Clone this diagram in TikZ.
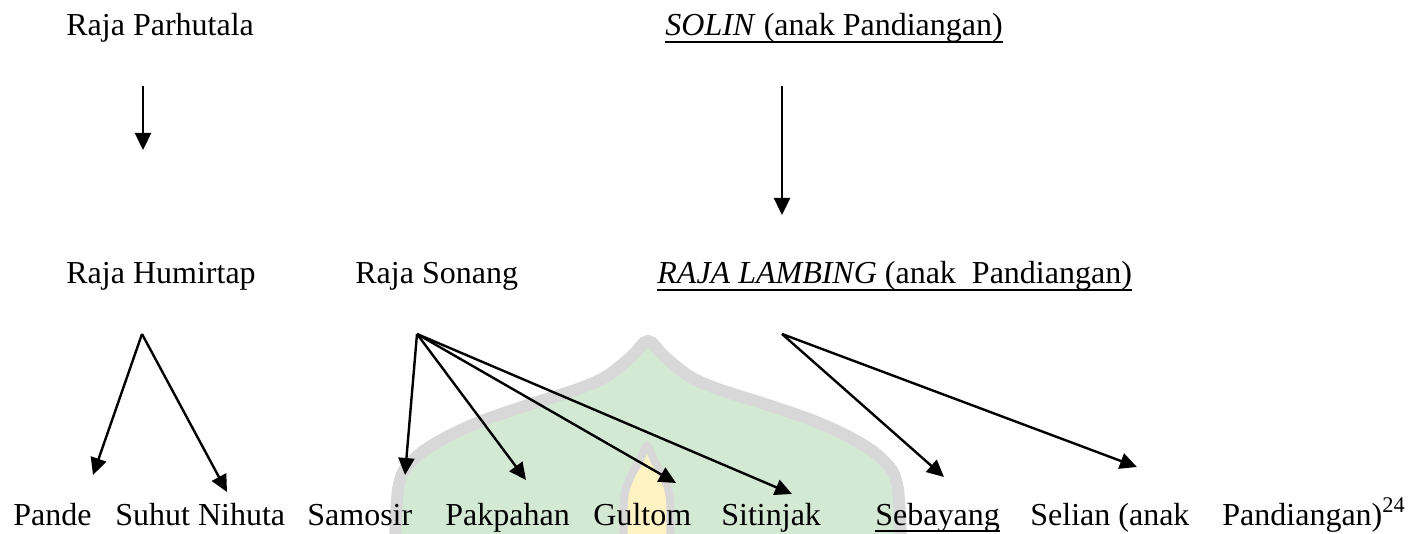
\documentclass[tikz,border=0pt]{standalone}
\usepackage{fontspec}
\setmainfont{Liberation Serif}
\usetikzlibrary{arrows.meta}
\definecolor{wmgreen}{HTML}{D4E9D4}
\definecolor{wmgrey}{HTML}{D8D8D8}
\definecolor{wmyellow}{HTML}{FFF3C4}
\newcommand\ulx[1]{\setbox0\hbox{#1}\rlap{\rule[-3.5pt]{\wd0}{1pt}}\box0}
\begin{document}
\begin{tikzpicture}[x=0.5pt,y=-0.5pt,
  txt/.style={inner sep=0pt, anchor=base west, font=\fontsize{16pt}{19pt}\selectfont},
  arr/.style={line width=1.2pt, -{Triangle[length=8.5pt,width=8pt]}},
  wm/.style={line width=6pt, draw=wmgrey}]
\useasboundingbox (0,0) rectangle (1415,534);
% watermark
\begin{scope}
\clip (0,0) rectangle (1415,534);
\path[wm, fill=wmgreen] plot[smooth, tension=0.6] coordinates {(395,545) (399,484) (414,459) (443,439) (482,421) (531,404) (578,389) (607,376) (632,356) (648,341) (664,356) (689,376) (718,389) (765,404) (814,421) (853,439) (882,459) (897,484) (901,545)} -- cycle;
\path[line width=4pt, draw=wmgrey, fill=wmyellow] plot[smooth, tension=0.6] coordinates {(624,545) (624,500) (630,478) (640,460) (647,446) (654,460) (664,478) (670,500) (670,545)} -- cycle;
\end{scope}
% nodes
\node[txt] (parhutala) at (66,36) {Raja Parhutala};
\node[txt] (solin) at (665,36) {\ulx{\textit{SOLIN} (anak Pandiangan)}};
\node[txt] (humirtap) at (66,284) {Raja Humirtap};
\node[txt] (sonang) at (355,284) {Raja Sonang};
\node[txt] (lambing) at (657,284) {\ulx{\textit{RAJA LAMBING} (anak\ \ Pandiangan)}};
\node[txt] (pande) at (13,525) {Pande};
\node[txt] (suhut) at (115,525) {Suhut Nihuta};
\node[txt] (samosir) at (307,525) {Samosir};
\node[txt] (pakpahan) at (445,525) {Pakpahan};
\node[txt] (gultom) at (593,525) {Gultom};
\node[txt] (sitinjak) at (721,525) {Sitinjak};
\node[txt] (sebayang) at (875,525) {\ulx{Sebayang}};
\node[txt] (selian) at (1030,525) {Selian (anak};
\node[txt] (pandiangan) at (1222,525) {Pandiangan)\textsuperscript{24}};
% connector points
\coordinate (parS) at (143,86);
\coordinate (parE) at (143,150);
\coordinate (solS) at (782,86);
\coordinate (solE) at (782,215);
\coordinate (humS) at (142,334);
\coordinate (pandeE) at (93,475);
\coordinate (suhutE) at (227,492);
\coordinate (sonS) at (417,334);
\coordinate (samosirE) at (405,475);
\coordinate (pakpahanE) at (526,480);
\coordinate (gultomE) at (676,483);
\coordinate (sitinjakE) at (792,494);
\coordinate (lamS) at (782,334);
\coordinate (sebayangE) at (944,477);
\coordinate (selianE) at (1137,467);
% connectors
\draw[arr] (parS) -- (parE);
\draw[arr] (solS) -- (solE);
\draw[arr] (humS) -- (pandeE);
\draw[arr] (humS) -- (suhutE);
\draw[arr] (sonS) -- (samosirE);
\draw[arr] (sonS) -- (pakpahanE);
\draw[arr] (sonS) -- (gultomE);
\draw[arr] (sonS) -- (sitinjakE);
\draw[arr] (lamS) -- (sebayangE);
\draw[arr] (lamS) -- (selianE);
\end{tikzpicture}
\end{document}
